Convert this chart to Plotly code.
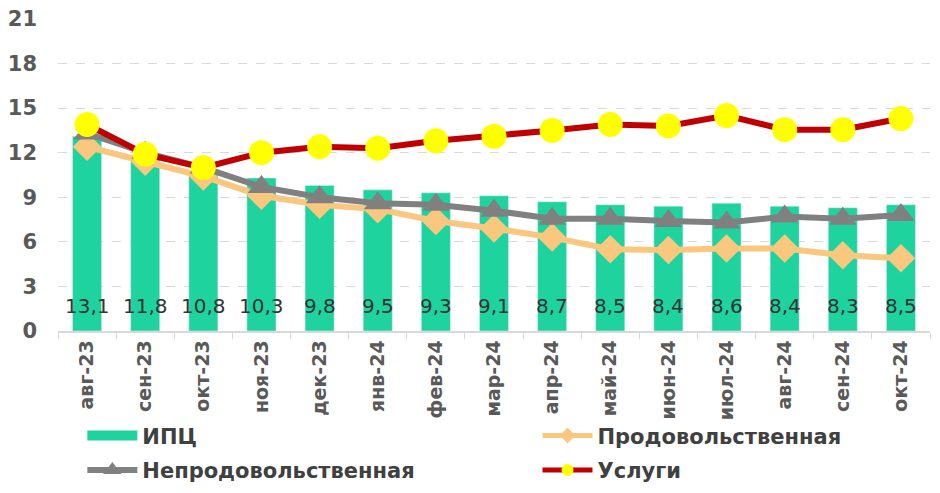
import plotly.graph_objects as go

months = ["авг-23", "сен-23", "окт-23", "ноя-23", "дек-23", "янв-24", "фев-24", "мар-24",
          "апр-24", "май-24", "июн-24", "июл-24", "авг-24", "сен-24", "окт-24"]
cpi = [13.1, 11.8, 10.8, 10.3, 9.8, 9.5, 9.3, 9.1, 8.7, 8.5, 8.4, 8.6, 8.4, 8.3, 8.5]
food = [12.4, 11.4, 10.4, 9.1, 8.5, 8.2, 7.4, 6.9, 6.3, 5.5, 5.45, 5.55, 5.55, 5.1, 4.9]
nonfood = [13.3, 12.0, 11.0, 9.7, 9.0, 8.6, 8.5, 8.1, 7.55, 7.55, 7.4, 7.3, 7.7, 7.55, 7.8]
services = [13.9, 11.9, 11.0, 12.0, 12.4, 12.3, 12.8, 13.1, 13.5, 13.9, 13.8, 14.5, 13.55, 13.55, 14.3]
y_ticks = [0, 3, 6, 9, 12, 15, 18, 21]

cpi_labels = [f"{v:.1f}".replace(".", ",") for v in cpi]

GREEN = "#1ED39E"
fig = go.Figure()
fig.add_trace(go.Bar(
    x=months, y=cpi, name="ИПЦ", marker_color=GREEN, showlegend=False,
))
# legend-only entry for the bars (wide swatch)
fig.add_trace(go.Scatter(
    x=[None], y=[None], name="ИПЦ", mode="lines",
    line=dict(color=GREEN, width=14), legend="legend", legendgroup="a",
))
fig.add_trace(go.Scatter(
    x=months, y=food, name="Продовольственная", mode="lines+markers",
    line=dict(color="#F9C77E", width=6), legend="legend2", legendgroup="c",
    marker=dict(symbol="diamond", size=22, color="#F9C77E"),
))
fig.add_trace(go.Scatter(
    x=months, y=nonfood, name="Непродовольственная", mode="lines+markers",
    line=dict(color="#808080", width=6), legend="legend", legendgroup="b",
    marker=dict(symbol="triangle-up", size=24, color="#808080"),
))
fig.add_trace(go.Scatter(
    x=months, y=services, name="Услуги", mode="lines+markers",
    line=dict(color="#C00000", width=6), legend="legend2", legendgroup="d",
    marker=dict(symbol="circle", size=25, color="#FFFF00"),
))

for m, lab in zip(months, cpi_labels):
    fig.add_annotation(x=m, y=0, yshift=25, text=lab, showarrow=False,
                       font=dict(family="DejaVu Sans", size=20, color="#333333"))

legend_font = dict(family="DejaVu Sans", size=21, color="#404040", weight="bold")
common_leg = dict(orientation="v", xanchor="left", yanchor="bottom", font=legend_font,
                  itemwidth=50, tracegroupgap=4, bgcolor="rgba(0,0,0,0)")
fig.update_layout(
    width=940, height=493,
    margin=dict(l=50, r=18, t=11, b=168),
    plot_bgcolor="white", paper_bgcolor="white",
    bargap=0.5,
    showlegend=True,
    legend=dict(x=0.0279, y=-0.511, itemsizing="trace", **common_leg),
    legend2=dict(x=0.5499, y=-0.511, itemsizing="constant", **common_leg),
)
fig.update_yaxes(
    range=[0, 21], tickvals=y_ticks, showgrid=True, gridcolor="#D9D9D9",
    griddash="dash", gridwidth=1, zeroline=False, showline=False,
    tickfont=dict(family="DejaVu Sans", size=21, color="#595959", weight="bold"),
    ticklabelstandoff=20, automargin=False, ticklabeloverflow="allow",
)
fig.update_xaxes(
    range=[-0.5, len(months) - 0.5],
    showline=True, linecolor="#D9D9D9", linewidth=1.5,
    ticks="outside", tickson="boundaries", ticklen=6, tickcolor="#D9D9D9",
    tickangle=-90, automargin=False, ticklabeloverflow="allow",
    tickfont=dict(family="DejaVu Sans", size=19, color="#595959", weight="bold"),
)

fig.write_html("out.html")
